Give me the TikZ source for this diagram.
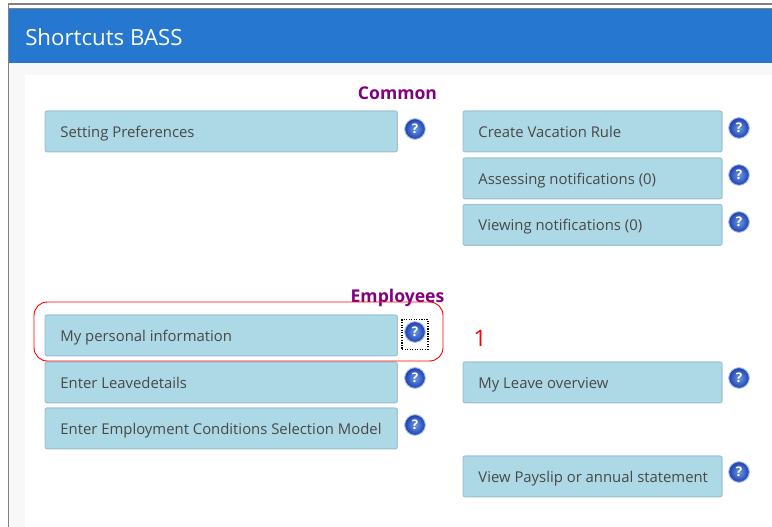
\documentclass[tikz,border=0pt]{standalone}
\usepackage{fontspec}
\setmainfont{Open Sans}
\definecolor{hdr}{HTML}{2577D0}
\definecolor{btn}{HTML}{ADD8E6}
\definecolor{btnedge}{HTML}{9CC6D4}
\definecolor{txt}{HTML}{484848}
\definecolor{head}{HTML}{800080}
\definecolor{panel}{HTML}{F8F8F8}
\definecolor{frameg}{HTML}{808080}
\definecolor{helpin}{HTML}{6C9BE6}
\definecolor{helpout}{HTML}{1E3DB0}
\tikzset{
  x=0.75pt,y=-0.75pt,
  shortcut/.style={draw=btnedge,fill=btn,line width=0.9pt,rounded corners=1.5pt,minimum height=30.5pt,
    inner sep=0pt,anchor=north west,text=txt,font=\fontsize{11.15pt}{13pt}\selectfont,text height=10pt,text depth=1pt},
  sectionhead/.style={text=head,font=\fontsize{13.2pt}{15pt}\selectfont\bfseries,inner sep=0pt},
  helpicon/.style={circle,minimum size=15.5pt,inner sep=0pt,draw=helpin!60!white,line width=0.7pt,
    inner color=helpin,outer color=helpout,text=white,font=\fontsize{10pt}{11pt}\selectfont\bfseries},
}
\newcommand{\widetext}[1]{\makebox[264.2pt][l]{\hspace{11.5pt}#1}}
\newcommand{\narrowtext}[1]{\makebox[194.2pt][l]{\hspace{11.5pt}#1}}
\begin{document}
\begin{tikzpicture}
\useasboundingbox (0,0) rectangle (772,527);
\fill[white] (0,0) rectangle (772,527);
\fill[panel] (9,63) rectangle (772,527);
\fill[white] (25,75) rectangle (772,527);
\fill[hdr] (9,9) rectangle (772,63);
\fill[frameg] (8,3.5) rectangle (772,5);
\fill[frameg] (7.5,3.5) rectangle (9,527);
\fill[frameg] (9,8.5) rectangle (772,9.5);
\node[text=white,anchor=west,inner sep=0pt,font=\fontsize{16.7pt}{19pt}\selectfont] (title) at (25,37) {Shortcuts BASS};
\node[sectionhead] (common) at (397.5,93.5) {Common};
\node[sectionhead] (employees) at (397.5,298) {Employees};
\node[shortcut] (b1) at (44.5,110.5) {\widetext{Setting Preferences}};
\node[shortcut] (b2) at (44.5,314.5) {\widetext{My personal information}};
\node[shortcut] (b3) at (44.5,361.5) {\widetext{Enter Leavedetails}};
\node[shortcut] (b4) at (44.5,407.5) {\widetext{Enter Employment Conditions Selection Model}};
\node[shortcut] (c1) at (462.5,110.5) {\narrowtext{Create Vacation Rule}};
\node[shortcut] (c2) at (462.5,157.5) {\narrowtext{Assessing notifications (0)}};
\node[shortcut] (c3) at (462.5,204) {\narrowtext{Viewing notifications (0)}};
\node[shortcut] (c4) at (462.5,361.5) {\narrowtext{My Leave overview}};
\node[shortcut] (c5) at (462.5,455.5) {\narrowtext{View Payslip or annual statement}};
\node[helpicon] (h1) at (415,129) {?};
\node[helpicon] (h2) at (415,332) {?};
\node[helpicon] (h3) at (415,378) {?};
\node[helpicon] (h4) at (415,425) {?};
\node[helpicon] (h5) at (739,128) {?};
\node[helpicon] (h6) at (739,175) {?};
\node[helpicon] (h7) at (739,222) {?};
\node[helpicon] (h8) at (739,378) {?};
\node[helpicon] (h9) at (739,472) {?};
\node[draw=black,densely dotted,line width=0.9pt,minimum width=19.5pt,minimum height=22pt,inner sep=0pt] (focus) at (415,334.5) {};
\draw[red,line width=0.7pt,rounded corners=10pt] (34,302) rectangle (443,361);
\node[text=red,inner sep=0pt,font=\fontsize{17pt}{19pt}\selectfont] (one) at (480,338) {1};
\end{tikzpicture}
\end{document}
